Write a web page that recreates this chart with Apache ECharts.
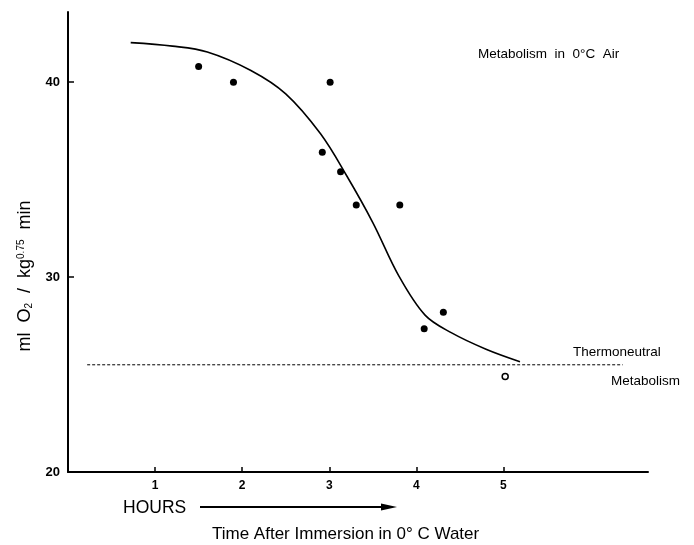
<!DOCTYPE html>
<html>
<head>
<meta charset="utf-8">
<script src="https://cdn.jsdelivr.net/npm/echarts@6/dist/echarts.min.js"></script>
<style>
  html, body { margin: 0; padding: 0; background: #fff; }
  #chart { width: 694px; height: 545px; }
</style>
</head>
<body>
<div id="chart"></div>
<script>
  // measured points (filled dots)
  var dotX = [1.50, 1.90, 3.01, 2.92, 3.13, 3.31, 3.81, 4.09, 4.31];
  var dotY = [40.8, 40.0, 40.0, 36.4, 35.4, 33.7, 33.7, 27.35, 28.2];
  // open circle
  var openX = [5.02];
  var openY = [24.9];
  // fitted curve
  var curveX = [0.72, 1.2, 1.6, 2.1, 2.5, 2.9, 3.2, 3.5, 3.8, 4.1, 4.4, 4.8, 5.19];
  var curveY = [42.03, 41.85, 41.55, 40.6, 39.4, 37.35, 35.2, 32.8, 30.05, 28.05, 27.15, 26.3, 25.66];
  // thermoneutral level
  var thermoX = [0.22, 6.37];
  var thermoY = [25.5, 25.5];
  var xTicks = [1, 2, 3, 4, 5];
  var yTicks = [20, 30, 40];

  function pairs(xs, ys) {
    return xs.map(function (x, i) { return [x, ys[i]]; });
  }

  var font = 'Liberation Sans, Arial, sans-serif';
  var chart = echarts.init(document.getElementById('chart'));

  var option = {
    animation: false,
    grid: { left: 68, right: 46, top: 12, bottom: 73 },
    xAxis: {
      type: 'value',
      min: 0,
      max: 6.66,
      splitLine: { show: false },
      axisLine: { lineStyle: { color: '#000', width: 2 } },
      axisTick: { inside: true, length: 5, customValues: xTicks, lineStyle: { color: '#000', width: 1.5 } },
      axisLabel: {
        customValues: xTicks,
        color: '#000', fontWeight: 'bold', fontSize: 12, fontFamily: font, margin: 8
      }
    },
    yAxis: {
      type: 'value',
      min: 20,
      max: 43.6,
      splitLine: { show: false },
      axisLine: { lineStyle: { color: '#000', width: 2 } },
      axisTick: { inside: true, length: 6, customValues: yTicks, lineStyle: { color: '#000', width: 1.5 } },
      axisLabel: {
        customValues: yTicks,
        color: '#000', fontWeight: 'bold', fontSize: 13, fontFamily: font, margin: 8
      }
    },
    series: [
      {
        type: 'line',
        data: pairs(thermoX, thermoY),
        symbol: 'none',
        lineStyle: { color: '#000', width: 1, type: [3, 2] }
      },
      {
        type: 'line',
        data: pairs(curveX, curveY),
        symbol: 'none',
        smooth: 0.35,
        lineStyle: { color: '#000', width: 1.6 }
      },
      {
        type: 'scatter',
        data: pairs(dotX, dotY),
        symbol: 'circle',
        symbolSize: 7,
        itemStyle: { color: '#000', opacity: 1 }
      },
      {
        type: 'scatter',
        data: pairs(openX, openY),
        symbol: 'circle',
        symbolSize: 6,
        itemStyle: { color: '#fff', borderColor: '#000', borderWidth: 1.5, opacity: 1 }
      }
    ],
    graphic: [
      {
        type: 'text', x: 478, y: 54,
        style: { text: 'Metabolism  in  0°C  Air', font: '13.5px ' + font, fill: '#000', textVerticalAlign: 'middle' }
      },
      {
        type: 'text', x: 573, y: 352,
        style: { text: 'Thermoneutral', font: '13.5px ' + font, fill: '#000', textVerticalAlign: 'middle' }
      },
      {
        type: 'text', x: 611, y: 381,
        style: { text: 'Metabolism', font: '13.5px ' + font, fill: '#000', textVerticalAlign: 'middle' }
      },
      {
        type: 'text', x: 123, y: 508,
        style: { text: 'HOURS', font: '17.5px ' + font, fill: '#000', textVerticalAlign: 'middle' }
      },
      {
        type: 'line',
        shape: { x1: 200, y1: 507, x2: 384, y2: 507 },
        style: { stroke: '#000', lineWidth: 2 }
      },
      {
        type: 'polygon',
        shape: { points: [[381, 503.5], [397, 507], [381, 510.5]] },
        style: { fill: '#000' }
      },
      {
        type: 'text', x: 212, y: 534,
        style: { text: 'Time After Immersion in 0° C Water', font: '17px ' + font, fill: '#000', textVerticalAlign: 'middle' }
      },
      {
        type: 'text', x: 25, y: 276, rotation: Math.PI / 2,
        style: {
          text: 'ml  O{sub|2}  /  kg{sup|0.75}  min',
          font: '18px ' + font,
          fill: '#000',
          align: 'center',
          verticalAlign: 'middle',
          rich: {
            sub: { fontSize: 10, fontFamily: font, verticalAlign: 'bottom', padding: [7, 0, 0, 0] },
            sup: { fontSize: 10, fontFamily: font, verticalAlign: 'top', padding: [0, 0, 7, 0] }
          }
        }
      }
    ]
  };

  chart.setOption(option);
</script>
</body>
</html>
